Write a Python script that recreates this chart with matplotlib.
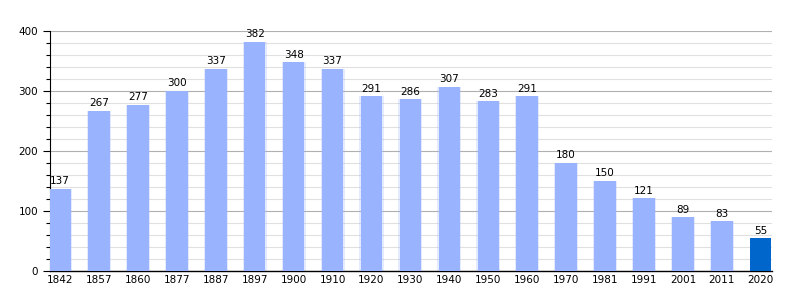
import matplotlib.pyplot as plt
import numpy as np
from matplotlib.ticker import MultipleLocator

years = ['1842', '1857', '1860', '1877', '1887', '1897', '1900', '1910', '1920',
         '1930', '1940', '1950', '1960', '1970', '1981', '1991', '2001', '2011', '2020']
population = [137, 267, 277, 300, 337, 382, 348, 337, 291,
              286, 307, 283, 291, 180, 150, 121, 89, 83, 55]

x = np.arange(len(years))
colors = ['#99b3ff'] * (len(years) - 1) + ['#0066cc']

fig = plt.figure(figsize=(8, 3), dpi=100)
ax = fig.add_axes([0.0625, 0.097, 0.903, 0.8])

ax.yaxis.set_major_locator(MultipleLocator(100))
ax.yaxis.set_minor_locator(MultipleLocator(20))
ax.grid(axis='y', which='minor', color='#e0e0e0', linewidth=0.8, zorder=0)
ax.grid(axis='y', which='major', color='#b0b0b0', linewidth=0.8, zorder=0)

# soft halo behind the light bars
ax.bar(x[:-1], population[:-1], width=0.62, color='#99b3ff', alpha=0.25,
       zorder=2, linewidth=0)
ax.bar(x, population, width=0.55, color=colors, zorder=3, linewidth=0)

for xi, v in zip(x, population):
    ax.text(xi, v + 4, str(v), ha='center', va='bottom', fontsize=7.5, zorder=4)

ax.set_xlim(-0.26, 18.3)
ax.set_ylim(0, 400)
ax.set_xticks(x)
ax.set_xticklabels(years, fontsize=7.5)
ax.tick_params(axis='x', length=0, pad=3)
ax.tick_params(axis='y', which='major', labelsize=7.5, length=5, width=0.8)
ax.tick_params(axis='y', which='minor', length=3, width=0.8)

for side in ['top', 'right']:
    ax.spines[side].set_visible(False)
ax.spines['left'].set_color('black')
ax.spines['bottom'].set_color('black')
ax.spines['left'].set_linewidth(0.8)
ax.spines['bottom'].set_linewidth(1.0)
ax.set_axisbelow(True)

fig.savefig('out.png', dpi=100)
